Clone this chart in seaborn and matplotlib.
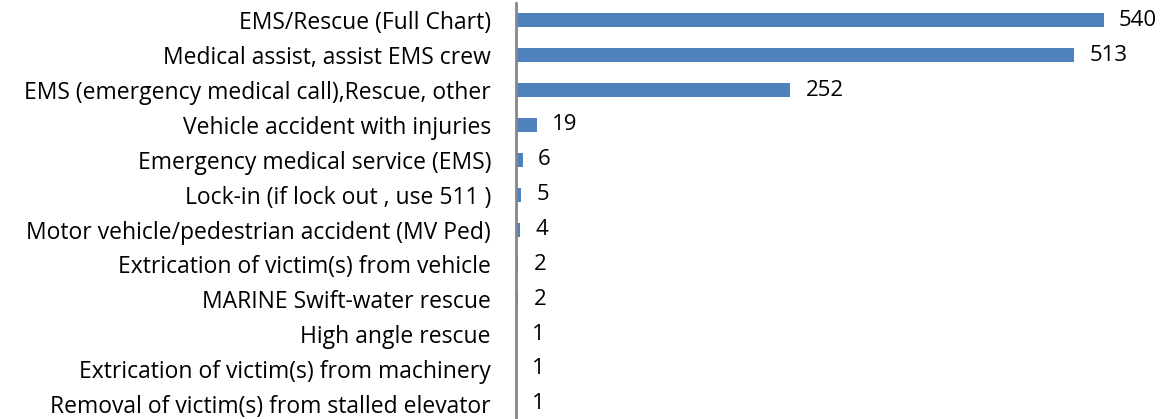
import pandas as pd
import matplotlib.pyplot as plt
import seaborn as sns

# Incident types and their counts (top to bottom)
incident_types = [
    "EMS/Rescue (Full Chart)",
    "Medical assist, assist EMS crew",
    "EMS (emergency medical call),Rescue, other",
    "Vehicle accident with injuries",
    "Emergency medical service (EMS)",
    "Lock-in (if lock out , use 511 )",
    "Motor vehicle/pedestrian accident (MV Ped)",
    "Extrication of victim(s) from vehicle",
    "MARINE Swift-water rescue",
    "High angle rescue",
    "Extrication of victim(s) from machinery",
    "Removal of victim(s) from stalled elevator",
]
counts = [540, 513, 252, 19, 6, 5, 4, 2, 2, 1, 1, 1]

df = pd.DataFrame({"type": incident_types, "count": counts})

sns.set_style("white")
plt.rcParams["font.family"] = ["Open Sans", "DejaVu Sans"]

fig = plt.figure(figsize=(11.75, 4.19), dpi=100)
ax = fig.add_axes([516 / 1175, -4 / 419, (1169 - 516) / 1175, 420 / 419])

sns.barplot(data=df, x="count", y="type", orient="h", color="#4F81BD",
            saturation=1, width=0.4, linewidth=0, ax=ax)

for c in ax.containers:
    ax.bar_label(c, padding=11, fontsize=16, color="black")

ax.set_xlim(0, 600)
ax.set_ylim(11.55, -0.5)
ax.set_xlabel("")
ax.set_ylabel("")
ax.set_xticks([])
ax.tick_params(axis="y", length=0, pad=18, labelsize=16.5, labelcolor="black")

for side in ["top", "right", "bottom"]:
    ax.spines[side].set_visible(False)
ax.spines["left"].set_color("#868686")
ax.spines["left"].set_linewidth(2)

fig.savefig("out.png", dpi=100)
